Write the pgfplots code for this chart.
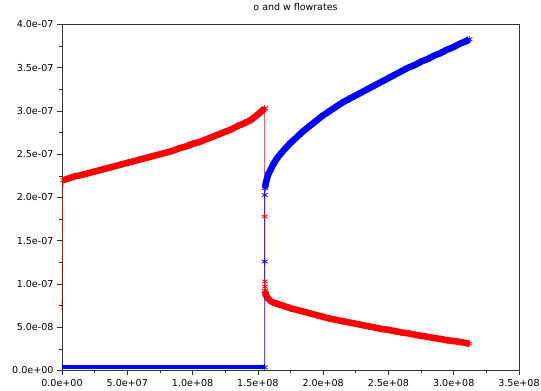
\documentclass[border=0pt]{standalone}
\usepackage{pgfplots}
\pgfplotsset{compat=1.18}
\usepackage{pgfplotstable}
\usepackage{fontspec}
\setmainfont{DejaVu Sans}

% o flowrate (red)
\pgfplotstableread{
x y
0 0.70e-7
0.5e6 2.06e-7
1e6 2.20e-7
}\redStart
\pgfplotstableread{
x y
1e6 2.20e-7
5e6 2.22e-7
1.0e7 2.245e-7
1.5e7 2.26e-7
2.0e7 2.28e-7
2.5e7 2.30e-7
3.0e7 2.32e-7
3.5e7 2.34e-7
4.0e7 2.36e-7
4.5e7 2.38e-7
5.0e7 2.40e-7
5.5e7 2.42e-7
6.0e7 2.44e-7
6.5e7 2.46e-7
7.0e7 2.48e-7
7.5e7 2.50e-7
8.0e7 2.52e-7
8.5e7 2.54e-7
9.0e7 2.57e-7
9.5e7 2.59e-7
1.00e8 2.62e-7
1.05e8 2.64e-7
1.10e8 2.67e-7
1.15e8 2.70e-7
1.20e8 2.73e-7
1.25e8 2.76e-7
1.30e8 2.79e-7
1.35e8 2.83e-7
1.40e8 2.86e-7
1.45e8 2.90e-7
1.50e8 2.96e-7
1.553e8 3.03e-7
}\redLeft
\pgfplotstableread{
x y
1.553e8 3.03e-7
1.553e8 1.78e-7
1.553e8 1.03e-7
1.554e8 0.97e-7
1.556e8 0.92e-7
}\redDrop
\pgfplotstableread{
x y
1.556e8 0.92e-7
1.56e8 0.88e-7
1.57e8 0.85e-7
1.58e8 0.83e-7
1.60e8 0.80e-7
1.62e8 0.785e-7
1.65e8 0.77e-7
1.70e8 0.745e-7
1.75e8 0.72e-7
1.80e8 0.70e-7
1.85e8 0.68e-7
1.90e8 0.66e-7
1.95e8 0.64e-7
2.00e8 0.62e-7
2.05e8 0.60e-7
2.10e8 0.585e-7
2.15e8 0.57e-7
2.20e8 0.555e-7
2.25e8 0.54e-7
2.30e8 0.525e-7
2.35e8 0.51e-7
2.40e8 0.495e-7
2.45e8 0.48e-7
2.50e8 0.47e-7
2.55e8 0.455e-7
2.60e8 0.44e-7
2.65e8 0.43e-7
2.70e8 0.415e-7
2.75e8 0.40e-7
2.80e8 0.39e-7
2.85e8 0.375e-7
2.90e8 0.365e-7
2.95e8 0.35e-7
3.00e8 0.34e-7
3.05e8 0.33e-7
3.10e8 0.315e-7
3.12e8 0.31e-7
}\redRight

% w flowrate (blue)
\pgfplotstableread{
x y
0 0.035e-7
5e7 0.035e-7
1e8 0.035e-7
1.553e8 0.035e-7
}\blueFlat
\pgfplotstableread{
x y
1.553e8 0.035e-7
1.553e8 1.26e-7
1.553e8 2.03e-7
1.555e8 2.11e-7
}\blueRise
\pgfplotstableread{
x y
1.555e8 2.11e-7
1.56e8 2.16e-7
1.57e8 2.22e-7
1.58e8 2.27e-7
1.60e8 2.33e-7
1.62e8 2.39e-7
1.65e8 2.46e-7
1.70e8 2.55e-7
1.75e8 2.63e-7
1.80e8 2.70e-7
1.85e8 2.77e-7
1.90e8 2.83e-7
1.95e8 2.89e-7
2.00e8 2.95e-7
2.05e8 3.00e-7
2.10e8 3.05e-7
2.15e8 3.10e-7
2.20e8 3.14e-7
2.25e8 3.18e-7
2.30e8 3.22e-7
2.35e8 3.26e-7
2.40e8 3.30e-7
2.45e8 3.34e-7
2.50e8 3.38e-7
2.55e8 3.42e-7
2.60e8 3.46e-7
2.65e8 3.50e-7
2.70e8 3.53e-7
2.75e8 3.57e-7
2.80e8 3.60e-7
2.85e8 3.64e-7
2.90e8 3.67e-7
2.95e8 3.71e-7
3.00e8 3.74e-7
3.05e8 3.78e-7
3.10e8 3.81e-7
3.12e8 3.83e-7
}\blueUp

\begin{document}
\begin{tikzpicture}
\useasboundingbox (-62bp,-20.5bp) rectangle (479bp,370.5bp);
\begin{axis}[
  at={(0,0)}, anchor=south west,
  scale only axis, width=457bp, height=346bp,
  xmin=0, xmax=3.5e8, ymin=0, ymax=4e-7,
  scaled x ticks=false, scaled y ticks=false,
  xtick={0,5e7,1e8,1.5e8,2e8,2.5e8,3e8,3.5e8},
  xticklabels={0.0e+00,5.0e+07,1.0e+08,1.5e+08,2.0e+08,2.5e+08,3.0e+08,3.5e+08},
  ytick={0,5e-8,1e-7,1.5e-7,2e-7,2.5e-7,3e-7,3.5e-7,4e-7},
  yticklabels={0.0e+00,5.0e-08,1.0e-07,1.5e-07,2.0e-07,2.5e-07,3.0e-07,3.5e-07,4.0e-07},
  minor x tick num=1, minor y tick num=1,
  tick align=outside, tick pos=left,
  major tick length=5bp, minor tick length=3bp,
  tick style={black!80, line width=0.6bp},
  axis line style={black!80, line width=0.8bp},
  tick label style={font=\fontsize{9.6}{11}\selectfont},
  title={o and w flowrates},
  title style={at={(0.5,1)}, anchor=base, yshift=8bp, xshift=5bp,
               font=\fontsize{9.5}{11}\selectfont},
  clip=false,
]
% o flowrate
\addplot[red, line width=0.6bp] table {\redStart};
\addplot[red, line width=0.6bp] table {\redDrop};
\addplot[red, line width=6.5bp] table {\redLeft};
\addplot[red, line width=6.5bp] table {\redRight};
\addplot[red, only marks, mark=asterisk, mark size=3.4bp, mark options={line width=0.7bp}] table {\redLeft};
\addplot[red, only marks, mark=asterisk, mark size=3.4bp, mark options={line width=0.7bp}] table {\redDrop};
\addplot[red, only marks, mark=asterisk, mark size=3.4bp, mark options={line width=0.7bp}] table {\redRight};
% w flowrate
\addplot[blue, line width=4bp] table {\blueFlat};
\addplot[blue, line width=0.7bp] table {\blueRise};
\addplot[blue, line width=6.5bp] table {\blueUp};
\addplot[blue, only marks, mark=asterisk, mark size=3.4bp, mark options={line width=0.7bp}] table {\blueRise};
\addplot[blue, only marks, mark=asterisk, mark size=3.4bp, mark options={line width=0.7bp}] table {\blueUp};
\end{axis}
\end{tikzpicture}
\end{document}
